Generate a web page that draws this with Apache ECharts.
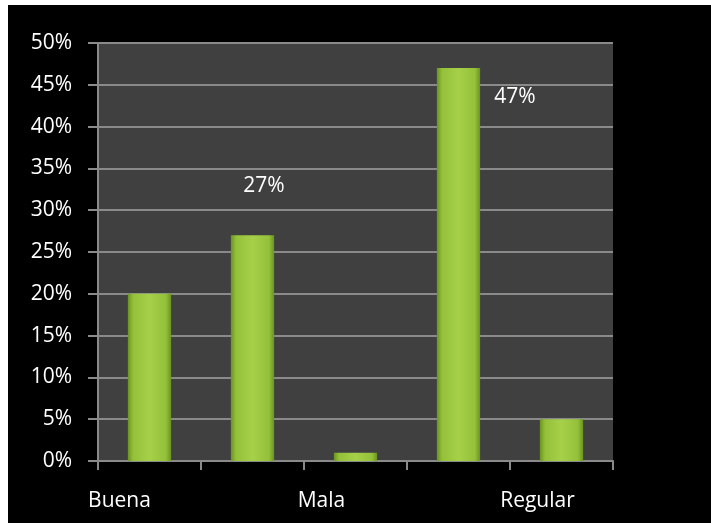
<!DOCTYPE html>
<html>
<head>
<meta charset="utf-8">
<script src="https://cdn.jsdelivr.net/npm/echarts@6/dist/echarts.min.js"></script>
<style>
html,body{margin:0;padding:0;background:#fff;}
#frame{position:absolute;left:8px;top:5px;width:703px;height:518px;background:#000;}
#c{position:absolute;left:0;top:0;width:711px;height:523px;}
</style>
</head>
<body>
<div id="frame"></div>
<div id="c"></div>
<script>
const categories = ['Buena', '', 'Mala', '', 'Regular'];
const values = [20, 27, 1, 47, 5];
const shownLabels = [false, true, false, true, false];
const yTicks = { min: 0, max: 50, interval: 5 };

const labelPos = { 1: [33, -49], 3: [78, 29] };
const catShift = [60, 0, 68, 0, 48];

const barColor = new echarts.graphic.LinearGradient(0, 0, 1, 0, [
  { offset: 0, color: '#6a9420' },
  { offset: 0.12, color: '#94c03a' },
  { offset: 0.5, color: '#a6d048' },
  { offset: 0.88, color: '#94c03a' },
  { offset: 1, color: '#6a9420' }
]);

const data = values.map((v, i) => {
  const item = { value: v };
  if (shownLabels[i]) {
    item.label = {
      show: true,
      position: labelPos[i],
      align: 'center',
      verticalAlign: 'middle',
      formatter: '{c}%',
      color: '#ffffff',
      fontSize: 21,
      fontFamily: 'Open Sans'
    };
  }
  return item;
});

const catData = categories.map((c, i) => ({
  value: c,
  textStyle: { padding: [0, catShift[i], 0, 0] }
}));

const chart = echarts.init(document.getElementById('c'));
chart.setOption({
  backgroundColor: 'transparent',
  animation: false,
  grid: {
    left: 98, right: 98, top: 43, bottom: 62,
    show: true, backgroundColor: '#404040', borderWidth: 0
  },
  xAxis: {
    type: 'category',
    data: catData,
    axisLine: { lineStyle: { color: '#8a8a8a', width: 2 } },
    axisTick: { show: true, interval: 0, length: 9, lineStyle: { color: '#8a8a8a', width: 2 } },
    axisLabel: {
      interval: 0, color: '#ffffff', fontSize: 21, fontFamily: 'Open Sans',
      margin: 30
    },
    splitLine: { show: false }
  },
  yAxis: {
    type: 'value',
    min: yTicks.min, max: yTicks.max, interval: yTicks.interval,
    axisLine: { show: true, lineStyle: { color: '#8a8a8a', width: 2 } },
    axisTick: { show: true, length: 10, lineStyle: { color: '#8a8a8a', width: 2 } },
    axisLabel: { formatter: '{value}%', color: '#ffffff', fontSize: 21, fontFamily: 'Open Sans', margin: 26 },
    splitLine: { show: true, lineStyle: { color: '#8a8a8a', width: 2 } }
  },
  series: [{
    type: 'bar',
    data: data,
    barWidth: '42%',
    itemStyle: { color: barColor },
    label: { show: false }
  }]
});
</script>
</body>
</html>
